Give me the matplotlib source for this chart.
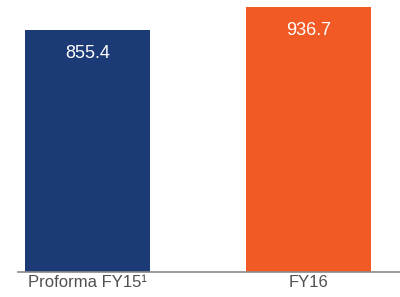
import matplotlib
matplotlib.use('Agg')
import matplotlib.pyplot as plt

# data
categories = ['Proforma FY15\u00b9', 'FY16']
values = [855.4, 936.7]
value_labels = ['855.4', '936.7']
colors = ['#1c3a75', '#f15a24']

plt.rcParams['font.family'] = ['Liberation Sans', 'DejaVu Sans']

fig = plt.figure(figsize=(4, 2.97), dpi=100)
ax = fig.add_axes([18 / 400, 25 / 297, 382 / 400, 272 / 297])

x = range(len(categories))
bars = ax.bar(x, values, width=0.566, color=colors)

# value labels inside the top of each bar
for rect, lab in zip(bars, value_labels):
    ax.annotate(lab, (rect.get_x() + rect.get_width() / 2, rect.get_height()),
                xytext=(0, -17), textcoords='offset points',
                ha='center', va='center', color='white', fontsize=13)

ax.set_xlim(-0.314, 1.414)
ax.set_ylim(0, 961.5)
ax.set_xticks(list(x))
ax.set_xticklabels(categories, fontsize=12, color='#505050')
ax.tick_params(axis='x', length=0, pad=2)
ax.set_yticks([])

for side in ['top', 'right', 'left']:
    ax.spines[side].set_visible(False)
ax.spines['bottom'].set_color('#8a8a8a')
ax.spines['bottom'].set_linewidth(1.2)

plt.savefig('out.png', dpi=100)
plt.close()
